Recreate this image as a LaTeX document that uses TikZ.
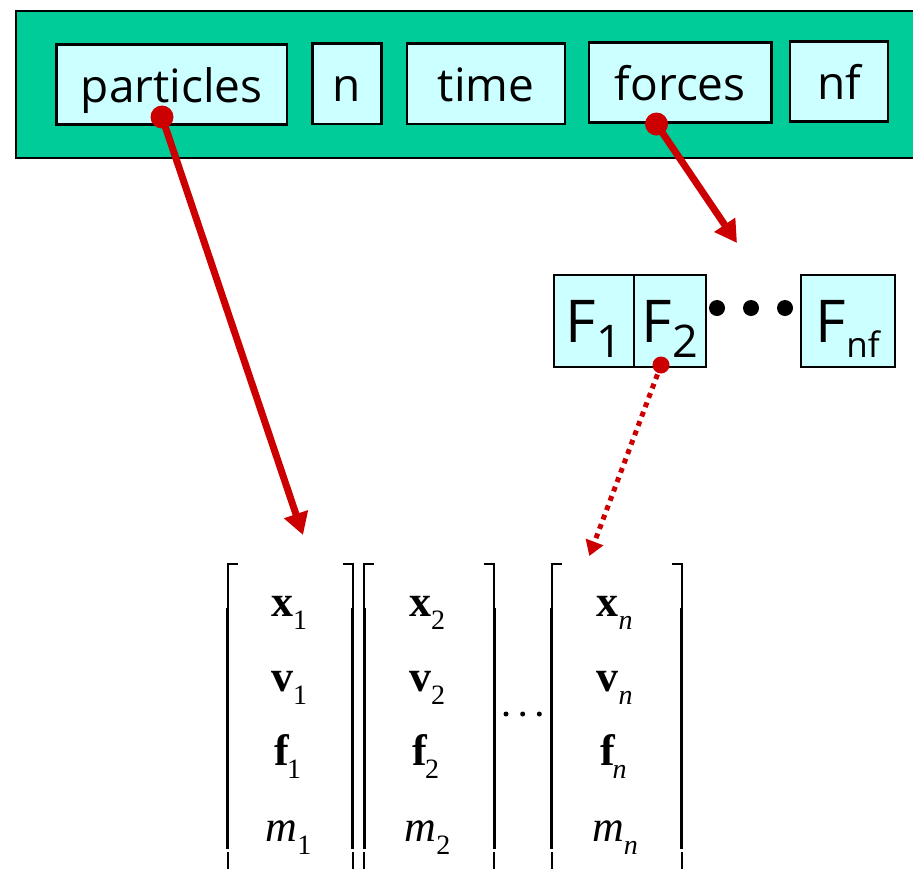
\documentclass[tikz,border=0pt]{standalone}
\usepackage{fontspec}
\usepackage{graphicx}
\setmainfont{Liberation Serif}
\newfontfamily\osans{Open Sans}
\usetikzlibrary{arrows.meta}
\definecolor{bargreen}{RGB}{0,204,153}
\definecolor{boxcyan}{RGB}{204,255,255}
\definecolor{arrred}{RGB}{204,0,0}
\newcommand\msub[1]{\raisebox{-13pt}{\fontsize{28}{28}\selectfont #1}}
\newcommand\fsub[2]{\raisebox{-15pt}{\fontsize{#1}{#1}\selectfont #2}}
\begin{document}
\begin{tikzpicture}[x=1pt,y=-1pt,
  fieldbox/.style={draw=black, line width=2.5pt, fill=boxcyan, inner sep=0pt,
    font=\osans\fontsize{46}{46}\selectfont, text height=38pt, text depth=2pt},
  forcebox/.style={draw=black, line width=2.2pt, fill=boxcyan, inner sep=0pt,
    minimum height=92pt, font=\osans\fontsize{59}{59}\selectfont, text height=44pt, text depth=2pt},
  ment/.style={inner sep=0pt, anchor=base, font=\fontsize{44}{44}\selectfont},
  bigdot/.style={circle, fill=black, inner sep=0pt, minimum size=16pt},
  smalldot/.style={circle, fill=black, inner sep=0pt, minimum size=5pt},
  startdot/.style={circle, fill=arrred, inner sep=0pt},
  ptr/.style={draw=arrred, line width=7pt, -{Triangle[length=22pt,width=24pt]}},
  dptr/.style={draw=arrred, line width=5pt, dash pattern=on 5pt off 5pt, -{Triangle[length=15pt,width=18pt]}},
  brk/.style={line width=2pt},
  brkthick/.style={line width=3.4pt}]
\path[use as bounding box, clip] (0,0) rectangle (913,868);

% green record bar
\node[draw=black, line width=2.5pt, fill=bargreen, anchor=north west, inner sep=0pt,
  minimum width=920pt, minimum height=147pt] (bar) at (14.5,9.5) {};

% fields
\node[fieldbox, minimum width=230.5pt, minimum height=80pt] (particles) at (171.75,84.3) {particles};
\node[fieldbox, minimum width=68.8pt, minimum height=80.3pt] (n) at (347.1,83.85) {n};
\node[fieldbox, minimum width=158pt, minimum height=80.3pt] (time) at (486,83.85) {time};
\node[fieldbox, minimum width=182.7pt, minimum height=80pt] (forces) at (680.3,82.7) {forces};
\node[fieldbox, minimum width=98pt, minimum height=79.6pt] (nf) at (839,81.5) {nf};

% force array
\node[forcebox, minimum width=80pt] (F1) at (594,321) {F\fsub{45}{1}};
\node[forcebox, minimum width=72pt] (F2) at (670,321) {F\fsub{45}{2}};
\node[forcebox, minimum width=93.7pt] (Fnf) at (847.8,321) {F\fsub{35}{nf}};
\node[bigdot] (d1) at (717,308) {};
\node[bigdot] (d2) at (751,308) {};
\node[bigdot] (d3) at (785,308) {};

% particle vectors: brackets
\foreach \L/\R in {227.7/352.7, 364.3/494.3, 551.7/681.7}{
  \draw[brk] (\L+10,564) -- (\L,564) -- (\L,610);
  \draw[brkthick] (\L,608) -- (\L,849);
  \draw[brk] (\L,852) -- (\L,880);
  \draw[brk] (\R-10,564) -- (\R,564) -- (\R,610);
  \draw[brkthick] (\R,608) -- (\R,849);
  \draw[brk] (\R,852) -- (\R,880);
}
% entries
\node[ment] (x1) at (289,616.7) {\textbf{x}\msub{1}};
\node[ment] (v1) at (289,691.7) {\textbf{v}\msub{1}};
\node[ment] (f1) at (288,765) {\textbf{f}\kern-3pt\msub{1}};
\node[ment] (m1) at (288.5,841.7) {\textit{m}\msub{1}};
\node[ment] (x2) at (427,616.7) {\textbf{x}\msub{2}};
\node[ment] (v2) at (427,691.7) {\textbf{v}\msub{2}};
\node[ment] (f2) at (426,765) {\textbf{f}\kern-3pt\msub{2}};
\node[ment] (m2) at (427.5,841.7) {\textit{m}\msub{2}};
\node[ment] (xn) at (614.5,616.7) {\textbf{x}\msub{\textit{n}}};
\node[ment] (vn) at (614.5,691.7) {\textbf{v}\msub{\textit{n}}};
\node[ment] (fn) at (613.5,765) {\textbf{f}\kern-3pt\msub{\textit{n}}};
\node[ment] (mn) at (615,841.7) {\textit{m}\msub{\textit{n}}};
\node[smalldot] (e1) at (506,714) {};
\node[smalldot] (e2) at (522.7,714) {};
\node[smalldot] (e3) at (539.3,714) {};

% pointers
\coordinate (pend) at (303,535);
\coordinate (fend) at (737,243);
\coordinate (f2end) at (589.3,556);
\draw[ptr] (162,117) coordinate (ps) -- (pend);
\draw[ptr] (656.5,124) coordinate (fs) -- (fend);
\draw[dptr] (661,365) coordinate (f2s) -- (f2end);
\node[startdot, minimum size=23pt] (pdot) at (ps) {};
\node[startdot, minimum size=23pt] (fdot) at (fs) {};
\node[startdot, minimum size=17pt] (f2dot) at (f2s) {};
\end{tikzpicture}
\end{document}
